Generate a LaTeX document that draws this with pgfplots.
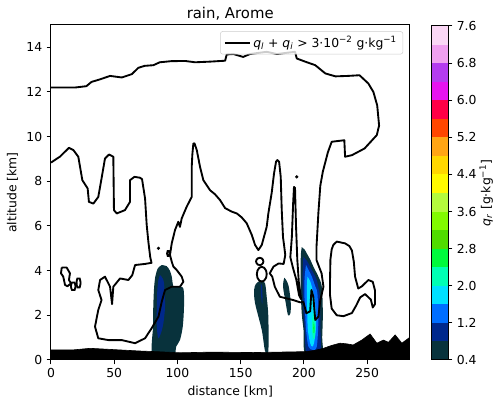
\documentclass[border=0pt]{standalone}
\usepackage{fontspec}
\setmainfont{DejaVu Sans}
\usepackage{pgfplots}
\pgfplotsset{compat=1.18}
\definecolor{cb1}{RGB}{8,50,60}
\definecolor{cb2}{RGB}{0,40,140}
\definecolor{cb3}{RGB}{0,110,255}
\definecolor{cb4}{RGB}{0,225,255}
\definecolor{cb5}{RGB}{0,255,180}
\definecolor{cb6}{RGB}{0,250,60}
\definecolor{cb7}{RGB}{80,220,0}
\definecolor{cb8}{RGB}{130,250,0}
\definecolor{cb9}{RGB}{180,250,60}
\definecolor{cb10}{RGB}{255,250,0}
\definecolor{cb11}{RGB}{255,215,0}
\definecolor{cb12}{RGB}{255,165,20}
\definecolor{cb13}{RGB}{255,70,0}
\definecolor{cb14}{RGB}{255,0,70}
\definecolor{cb15}{RGB}{230,20,240}
\definecolor{cb16}{RGB}{180,60,240}
\definecolor{cb17}{RGB}{240,160,240}
\definecolor{cb18}{RGB}{250,215,245}
\begin{document}
\begin{tikzpicture}
\path[use as bounding box] (-41bp,-30.6bp) rectangle (358.6bp,289.4bp);
\begin{axis}[name=main, scale only axis, width=288.2bp, height=269.3bp,
  xmin=0, xmax=283.5, ymin=0, ymax=15,
  xtick={0,50,...,250}, ytick={0,2,...,14},
  tick align=outside, tick pos=left, major tick length=3.5bp,
  axis on top,
  axis line style={line width=0.8bp},
  every tick/.style={black, line width=0.8bp},
  xlabel={distance [km]}, ylabel={altitude [km]},
  title={rain, Arome},
  title style={font=\fontsize{12}{14}\selectfont, at={(0.5,1)}, anchor=base, yshift=-0.5bp},
  label style={font=\fontsize{10}{12}\selectfont},
  tick label style={font=\fontsize{10}{12}\selectfont},
  /pgf/number format/assume math mode=true,
  legend style={at={(1,1)}, anchor=north east, xshift=-5bp, yshift=-5bp,
    draw=black!20, fill=white, fill opacity=0.8, text opacity=1,
    rounded corners=2bp, font=\fontsize{10}{12}\selectfont},
  legend image code/.code={\draw[#1] (0bp,0bp) -- (20bp,0bp);},
]
% rain blobs
\addplot[forget plot, smooth, fill=cb1, draw=none] coordinates {(87.6,4.25) (91.5,4.2) (94,4.0) (95.5,3.73) (96.8,3.3) (100,3.28) (104.7,3.2) (105.2,2.4) (104.2,1.49) (102,0.89) (99,0.6) (96.8,0.2) (80.5,0.2) (80.7,1.5) (80.9,2.4) (81.5,3.2) (82.5,3.73) (84.5,4.1) (87.6,4.25)};
\addplot[forget plot, smooth, fill=cb2, draw=none] coordinates {(86.2,3.8) (87.8,3.7) (89.4,3.43) (90.2,2.4) (88.4,1.49) (84.9,0.97) (83.6,1.64) (83.8,2.5) (84.1,3.13) (85,3.6) (86.2,3.8)};
\addplot[forget plot, smooth, fill=cb1, draw=none] coordinates {(164,3.5) (166.5,3.55) (169.3,3.43) (170.6,2.83) (171.9,1.94) (171.9,0.4) (169.3,0.4) (166.7,1.34) (161.4,2.54) (160.6,3.13) (162,3.4) (164,3.5)};
\addplot[forget plot, smooth, fill=cb2, draw=none] coordinates {(166.1,3.4) (166.9,3.3) (167.3,2.8) (167,2.5) (166.5,2.7) (165.9,3.1) (166.1,3.4)};
\addplot[forget plot, smooth, fill=cb1, draw=none] coordinates {(184.5,3.68) (186,3.58) (188,3.3) (189.6,2.6) (189.4,2.1) (187.5,2.0) (185.5,2.6) (183.5,3.3) (184.5,3.68)};
\addplot[forget plot, smooth, fill=cb1, draw=none] coordinates {(198.3,5.05) (200.5,4.95) (202.3,4.77) (205,4.5) (207.5,4.18) (211.5,3.73) (214.2,3.28) (215,2.09) (214.5,1.0) (214.2,0.3) (201,0.3) (199.8,1.3) (198.3,2.09) (197.4,3.3) (197.5,4.18) (197.6,4.7) (198.3,5.05)};
\addplot[forget plot, smooth, fill=cb2, draw=none] coordinates {(199.6,4.62) (202.3,4.45) (204.9,4.18) (207.5,3.9) (210.2,3.58) (212.3,3.0) (212.8,2.68) (213,1.5) (212.8,0.3) (202.3,0.3) (200.8,1.3) (199.6,2.24) (199.1,3.0) (199.1,3.88) (199.6,4.62)};
\addplot[forget plot, smooth, fill=cb3, draw=none] coordinates {(201.7,4.25) (204,4.0) (206.3,3.73) (209,3.3) (210.7,2.98) (211.5,1.79) (210.2,0.6) (207,0.45) (203.6,0.6) (201.8,1.3) (201,2.09) (200.4,3.0) (200.6,3.7) (201.7,4.25)};
\addplot[forget plot, smooth, fill=cb4, draw=none] coordinates {(202.8,3.73) (204.8,3.55) (206.3,3.28) (208.9,2.54) (209.6,1.49) (208,0.75) (206.5,0.6) (205,0.75) (203.2,1.3) (202.8,1.79) (202.3,2.98) (202.8,3.73)};
\addplot[forget plot, smooth, fill=cb5, draw=none] coordinates {(207.5,2.1) (208.8,1.9) (209.2,1.4) (208.6,1.0) (207.4,0.95) (206.5,1.3) (206.6,1.8) (207.5,2.1)};
\addplot[forget plot, smooth, fill=cb6, draw=none] coordinates {(207.8,1.7) (208.5,1.5) (208.3,1.2) (207.6,1.2) (207.4,1.45) (207.8,1.7)};
% main cloud contour
\addplot[black, line width=1.5bp, line join=round] coordinates {(0,12.2) (19,12.2) (28,12.26) (32,12.45) (39,12.57) (46.7,12.72) (56,12.65) (64,12.8) (69,13.08) (74,13.17) (81,13.2) (86,13.33) (95,13.38) (106,13.39) (114,13.33) (126,13.36) (137.7,13.4) (139,13.68) (144.2,13.7) (152,13.57) (157.4,13.7) (170.6,13.8) (178.6,13.7) (193,13.8) (194.4,13.5) (201,13.36) (209,13.2) (217,12.83) (225,12.7) (235,12.72) (244,12.75) (251,12.38) (255,12.0) (258,11.4) (259.5,10.5) (257.7,10.07) (248,9.47) (238,9.17) (232.6,9.1) (232,9.84) (222,9.77) (219,9.3) (215,8.43) (213,7.8) (211.5,6.6) (210,5.07) (210,4.47) (214,3.88) (215.5,3.28) (213,2.68) (211.5,1.94) (209,1.79) (207.5,2.83) (206,3.13) (205,2.18) (202,2.09) (199.6,2.6) (197,2.58) (191.7,2.68) (181,2.83) (177,3.28) (175,3.73) (173,3.88) (176,4.18) (180,4.32) (184,4.3) (185.3,4.7) (184.2,5.2) (183.5,5.5) (182.5,6.71) (181.7,8.2) (180.4,8.88) (179,8.95) (178,8.88) (176.4,8.35) (174.6,7.5) (171.9,6.56) (170.6,5.96) (166.7,5.15) (164,4.92) (161.4,5.15) (158.8,5.6) (154.8,6.12) (150.9,6.38) (147,6.56) (143,6.64) (137.7,6.8) (133.7,7.16) (129.7,7.42) (125.8,7.6) (120.5,8.05) (117.9,8.64) (115.3,9.4) (113.5,9.7) (112.6,9.69) (111.8,9.2) (111.3,8.64) (111.3,7.3) (107.3,6.86) (103.4,6.34) (102,5.96) (100.7,6.19) (98.1,5.82) (95.5,5.22) (94.1,4.7) (95.5,4.4) (96.8,4.18) (99.4,4.03) (103.4,3.73) (104.7,3.5) (102,3.28) (95.5,3.28) (90.2,3.13) (87.6,2.61) (85,1.94) (79.6,1.42) (74.4,0.97) (66.5,0.75) (55.9,0.89) (45.3,0.89) (37.4,0.97) (34.8,1.49) (37.4,2.24) (40,2.68) (37.4,3.13) (38.8,3.58) (42.7,3.73) (46.7,3.28) (48.3,2.5) (49.3,3.28) (54.6,3.65) (61.2,3.58) (64.3,3.8) (66.5,4.25) (74.4,4.3) (79.5,4.35) (78.5,4.6) (77,5.3) (75.7,6.04) (74.4,7.23) (72,8.1) (70.4,8.16) (66,8.2) (62.5,8.05) (62.5,7.08) (58.5,6.71) (52,6.56) (49.8,6.71) (49.3,9.1) (45.9,9.2) (42.7,9.02) (40,8.13) (37.4,7.3) (33.5,7.0) (30,7.08) (29,7.68) (24.8,8.05) (21.6,9.1) (17.7,9.4) (14.2,9.5) (7,9.1) (0,8.84)};
\addlegendentry{\textit{q}\textsubscript{\textit{l}} + \textit{q}\textsubscript{\textit{i}} > 3·10\textsuperscript{−2} g·kg\textsuperscript{−1}}
% secondary closed contours
\addplot[forget plot, black, line width=1.5bp, line join=round] coordinates {(189.3,4.6) (190.5,5.5) (191.5,7.0) (192.2,7.75) (193,7.7) (193.8,6.0) (194.8,4.5) (196,3.5) (197.8,2.72) (196.2,2.9) (194,3.6) (191.5,4.1) (189.3,4.6)};
\addplot[forget plot, black, line width=1.5bp, line join=round] coordinates {(223.3,5.15) (226,5.3) (232.6,5.22) (236,5.1) (238,4.9) (239.5,4.4) (240.5,3.73) (243,3.2) (246,3.3) (251,3.58) (254.5,3.5) (256.3,3.1) (256.3,2.5) (254.5,2.35) (253,2.7) (248.4,2.95) (244.5,2.8) (241.5,2.45) (238,2.1) (231.3,1.96) (226,2.0) (222,2.3) (220.7,2.9) (220.7,3.6) (221,4.5) (222,4.95) (223.3,5.15)};
\addplot[forget plot, black, line width=1.5bp, line join=round] coordinates {(8.5,4.14) (12.4,4.14) (15,3.88) (14.2,3.58) (15.8,3.43) (13,3.3) (11.1,3.36) (9.7,3.73) (7.9,3.88) (8.5,4.14)};
\addplot[forget plot, black, line width=1.5bp, smooth] coordinates {(19.4,3.3) (18.6,3.47) (16.6,3.47) (15.8,3.3) (16.6,3.13) (18.6,3.13) (19.4,3.3)};
\addplot[forget plot, black, line width=1.5bp, smooth] coordinates {(23.4,3.45) (22.7,3.65) (20.9,3.65) (20.2,3.45) (20.9,3.25) (22.7,3.25) (23.4,3.45)};
\addplot[forget plot, black, line width=1.5bp, smooth] coordinates {(168.0,4.41) (167.6,4.49) (166.55,4.55) (165.1,4.575) (163.65,4.55) (162.6,4.49) (162.2,4.41) (162.6,4.33) (163.65,4.27) (165.1,4.245) (166.55,4.27) (167.6,4.33) (168.0,4.41)};
\addplot[forget plot, black, line width=1.5bp, smooth] coordinates {(170.6,3.84) (170.08,4.005) (168.65,4.126) (166.7,4.17) (164.75,4.126) (163.32,4.005) (162.8,3.84) (163.32,3.675) (164.75,3.554) (166.7,3.51) (168.65,3.554) (170.08,3.675) (170.6,3.84)};
\addplot[forget plot, black, line width=1.5bp, smooth] coordinates {(93.8,4.77) (93.3,4.88) (92.3,4.88) (91.8,4.77) (92.3,4.66) (93.3,4.66) (93.8,4.77)};
\addplot[forget plot, only marks, mark=*, mark size=1.1bp, black] coordinates {(85,5.0) (194.4,8.2)};
% terrain
\addplot[forget plot, fill=black, draw=black, line width=0.5bp] coordinates {(0,0) (0,0.45) (17.6,0.45) (31,0.52) (44,0.48) (70,0.4) (84,0.37) (102,0.32) (127,0.35) (160,0.33) (200,0.37) (208,0.42) (215.5,0.52) (222,0.65) (228.6,0.75) (234,0.72) (239,0.67) (245.8,0.89) (252.4,1.16) (257.7,0.75) (262.9,0.89) (266.9,0.79) (272.2,1.12) (277.5,0.75) (283.5,1.0) (283.5,0) (0,0)};
\end{axis}
\begin{axis}[at={(main.south east)}, anchor=south west, xshift=17.8bp,
  scale only axis, width=13.3bp, height=268.5bp,
  xmin=0, xmax=1, ymin=0.4, ymax=7.6,
  xtick=\empty, ytick={0.4,1.2,2.0,2.8,3.6,4.4,5.2,6.0,6.8,7.6},
  ytick pos=right, yticklabel pos=right,
  tick align=outside, major tick length=3.5bp, axis on top,
  axis line style={line width=0.8bp},
  every tick/.style={black, line width=0.8bp},
  yticklabel style={font=\fontsize{10}{12}\selectfont, /pgf/number format/.cd, fixed, fixed zerofill, precision=1},
  /pgf/number format/assume math mode=true,
  ylabel={\textit{q}\textsubscript{\textit{r}} [g·kg\textsuperscript{−1}]},
  ylabel style={font=\fontsize{10}{12}\selectfont},
  ylabel shift=-4.5bp,
]
\addplot[fill=cb1,draw=none] coordinates {(0,0.4) (1,0.4) (1,0.8) (0,0.8)};
\addplot[fill=cb2,draw=none] coordinates {(0,0.8) (1,0.8) (1,1.2) (0,1.2)};
\addplot[fill=cb3,draw=none] coordinates {(0,1.2) (1,1.2) (1,1.6) (0,1.6)};
\addplot[fill=cb4,draw=none] coordinates {(0,1.6) (1,1.6) (1,2.0) (0,2.0)};
\addplot[fill=cb5,draw=none] coordinates {(0,2.0) (1,2.0) (1,2.4) (0,2.4)};
\addplot[fill=cb6,draw=none] coordinates {(0,2.4) (1,2.4) (1,2.8) (0,2.8)};
\addplot[fill=cb7,draw=none] coordinates {(0,2.8) (1,2.8) (1,3.2) (0,3.2)};
\addplot[fill=cb8,draw=none] coordinates {(0,3.2) (1,3.2) (1,3.6) (0,3.6)};
\addplot[fill=cb9,draw=none] coordinates {(0,3.6) (1,3.6) (1,4.0) (0,4.0)};
\addplot[fill=cb10,draw=none] coordinates {(0,4.0) (1,4.0) (1,4.4) (0,4.4)};
\addplot[fill=cb11,draw=none] coordinates {(0,4.4) (1,4.4) (1,4.8) (0,4.8)};
\addplot[fill=cb12,draw=none] coordinates {(0,4.8) (1,4.8) (1,5.2) (0,5.2)};
\addplot[fill=cb13,draw=none] coordinates {(0,5.2) (1,5.2) (1,5.6) (0,5.6)};
\addplot[fill=cb14,draw=none] coordinates {(0,5.6) (1,5.6) (1,6.0) (0,6.0)};
\addplot[fill=cb15,draw=none] coordinates {(0,6.0) (1,6.0) (1,6.4) (0,6.4)};
\addplot[fill=cb16,draw=none] coordinates {(0,6.4) (1,6.4) (1,6.8) (0,6.8)};
\addplot[fill=cb17,draw=none] coordinates {(0,6.8) (1,6.8) (1,7.2) (0,7.2)};
\addplot[fill=cb18,draw=none] coordinates {(0,7.2) (1,7.2) (1,7.6) (0,7.6)};
\end{axis}
\end{tikzpicture}
\end{document}
